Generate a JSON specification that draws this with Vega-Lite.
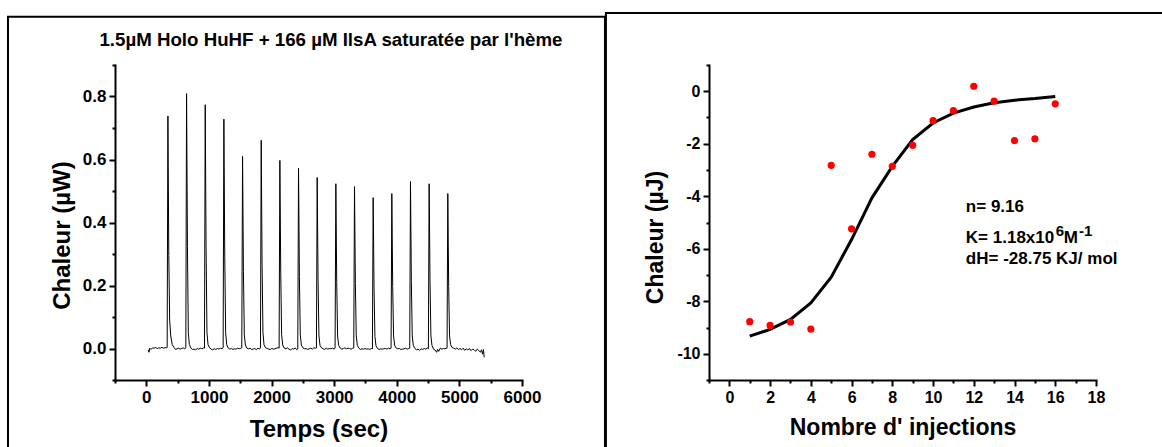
{
  "$schema": "https://vega.github.io/schema/vega-lite/v6.json",
  "bounds": "flush",
  "spacing": 187,
  "padding": {"left": 6, "top": 11, "right": 0, "bottom": 0},
  "background": "white",
  "config": {
    "view": {"stroke": null},
    "font": "Liberation Sans",
    "axis": {
      "domainColor": "black", "domainWidth": 2, "domainCap": "square",
      "tickColor": "black", "tickWidth": 2, "tickSize": 6, "grid": false,
      "labelFont": "Liberation Sans", "labelFontSize": 16, "labelFontWeight": "bold", "labelColor": "black",
      "labelPadding": 3, "labelFlush": false, "labelOverlap": false,
      "titleFont": "Liberation Sans", "titleFontSize": 22, "titleFontWeight": "bold", "titleColor": "black"
    }
  },
  "hconcat": [
    {
      "width": 407,
      "height": 315,
      "layer": [
        {
          "data": {"values": [
            {"t":30,"q":-0.004},{"t":42,"q":-0.012},{"t":55,"q":0.001},{"t":75,"q":-0.003},{"t":100,"q":0.002},{"t":125,"q":0.001},{"t":150,"q":0.003},{"t":175,"q":0.0},{"t":200,"q":0.002},{"t":225,"q":0.001},{"t":250,"q":0.004},{"t":275,"q":0.001},{"t":300,"q":0.003},{"t":320,"q":0.002},
            {"t":333,"q":0.003},{"t":345,"q":0.738},{"t":359,"q":0.295},{"t":373,"q":0.09},{"t":390,"q":0.04},{"t":415,"q":0.012},{"t":440,"q":0.004},{"t":465,"q":-0.003},{"t":490,"q":-0.001},{"t":515,"q":0.001},{"t":540,"q":-0.002},{"t":565,"q":0.0},{"t":590,"q":0.002},{"t":615,"q":-0.001},
            {"t":631,"q":0.002},{"t":643,"q":0.809},{"t":657,"q":0.324},{"t":671,"q":0.05},{"t":688,"q":0.012},{"t":713,"q":0.001},{"t":738,"q":-0.003},{"t":763,"q":-0.002},{"t":788,"q":-0.004},{"t":813,"q":0.0},{"t":838,"q":-0.002},{"t":863,"q":0.001},{"t":888,"q":-0.001},{"t":913,"q":0.002},
            {"t":929,"q":0.001},{"t":941,"q":0.774},{"t":955,"q":0.31},{"t":969,"q":0.05},{"t":986,"q":0.012},{"t":1011,"q":0.002},{"t":1036,"q":-0.002},{"t":1061,"q":-0.004},{"t":1086,"q":-0.001},{"t":1111,"q":-0.003},{"t":1136,"q":0.0},{"t":1161,"q":-0.002},{"t":1186,"q":0.001},{"t":1211,"q":0.0},
            {"t":1227,"q":0.002},{"t":1239,"q":0.728},{"t":1253,"q":0.291},{"t":1267,"q":0.05},{"t":1284,"q":0.012},{"t":1309,"q":0.001},{"t":1334,"q":-0.002},{"t":1359,"q":0.0},{"t":1384,"q":-0.003},{"t":1409,"q":-0.001},{"t":1434,"q":-0.002},{"t":1459,"q":0.001},{"t":1484,"q":-0.001},{"t":1509,"q":0.001},
            {"t":1525,"q":0.002},{"t":1537,"q":0.61},{"t":1551,"q":0.244},{"t":1565,"q":0.045},{"t":1582,"q":0.011},{"t":1607,"q":0.001},{"t":1632,"q":-0.001},{"t":1657,"q":0.001},{"t":1682,"q":-0.003},{"t":1707,"q":-0.002},{"t":1732,"q":0.0},{"t":1757,"q":-0.004},{"t":1782,"q":0.001},{"t":1807,"q":-0.001},
            {"t":1823,"q":0.001},{"t":1835,"q":0.661},{"t":1849,"q":0.264},{"t":1863,"q":0.05},{"t":1880,"q":0.012},{"t":1905,"q":0.002},{"t":1930,"q":0.0},{"t":1955,"q":-0.002},{"t":1980,"q":-0.003},{"t":2005,"q":0.0},{"t":2030,"q":-0.002},{"t":2055,"q":-0.001},{"t":2080,"q":0.001},{"t":2105,"q":0.003},
            {"t":2121,"q":0.001},{"t":2133,"q":0.597},{"t":2147,"q":0.239},{"t":2161,"q":0.045},{"t":2178,"q":0.011},{"t":2203,"q":0.001},{"t":2228,"q":-0.001},{"t":2253,"q":0.002},{"t":2278,"q":-0.002},{"t":2303,"q":-0.005},{"t":2328,"q":0.0},{"t":2353,"q":-0.002},{"t":2378,"q":0.002},{"t":2403,"q":-0.004},
            {"t":2419,"q":-0.001},{"t":2431,"q":0.572},{"t":2445,"q":0.229},{"t":2459,"q":0.045},{"t":2476,"q":0.011},{"t":2501,"q":0.002},{"t":2526,"q":-0.001},{"t":2551,"q":0.0},{"t":2576,"q":-0.003},{"t":2601,"q":-0.001},{"t":2626,"q":0.001},{"t":2651,"q":-0.002},{"t":2676,"q":0.002},{"t":2701,"q":0.001},
            {"t":2717,"q":0.002},{"t":2729,"q":0.543},{"t":2743,"q":0.217},{"t":2757,"q":0.04},{"t":2774,"q":0.01},{"t":2799,"q":0.002},{"t":2824,"q":-0.001},{"t":2849,"q":-0.003},{"t":2874,"q":0.001},{"t":2899,"q":-0.002},{"t":2924,"q":0.0},{"t":2949,"q":-0.001},{"t":2974,"q":0.001},{"t":2999,"q":-0.002},
            {"t":3015,"q":0.001},{"t":3027,"q":0.523},{"t":3041,"q":0.209},{"t":3055,"q":0.04},{"t":3072,"q":0.01},{"t":3097,"q":0.001},{"t":3122,"q":-0.002},{"t":3147,"q":0.0},{"t":3172,"q":0.002},{"t":3197,"q":-0.001},{"t":3222,"q":0.001},{"t":3247,"q":0.0},{"t":3272,"q":-0.002},{"t":3297,"q":0.001},
            {"t":3313,"q":0.002},{"t":3325,"q":0.514},{"t":3339,"q":0.206},{"t":3353,"q":0.04},{"t":3370,"q":0.01},{"t":3395,"q":0.001},{"t":3420,"q":-0.003},{"t":3445,"q":-0.001},{"t":3470,"q":-0.002},{"t":3495,"q":0.0},{"t":3520,"q":-0.002},{"t":3545,"q":-0.001},{"t":3570,"q":-0.003},{"t":3595,"q":0.0},
            {"t":3611,"q":-0.001},{"t":3623,"q":0.479},{"t":3637,"q":0.192},{"t":3651,"q":0.038},{"t":3668,"q":0.009},{"t":3693,"q":0.0},{"t":3718,"q":-0.003},{"t":3743,"q":-0.001},{"t":3768,"q":-0.002},{"t":3793,"q":-0.001},{"t":3818,"q":0.0},{"t":3843,"q":-0.002},{"t":3868,"q":0.001},{"t":3893,"q":-0.001},
            {"t":3909,"q":0.001},{"t":3921,"q":0.492},{"t":3935,"q":0.197},{"t":3949,"q":0.04},{"t":3966,"q":0.01},{"t":3991,"q":0.001},{"t":4016,"q":-0.001},{"t":4041,"q":0.0},{"t":4066,"q":-0.003},{"t":4091,"q":-0.002},{"t":4116,"q":-0.001},{"t":4141,"q":0.001},{"t":4166,"q":-0.002},{"t":4191,"q":0.0},
            {"t":4207,"q":0.001},{"t":4219,"q":0.53},{"t":4233,"q":0.212},{"t":4247,"q":0.04},{"t":4264,"q":0.01},{"t":4289,"q":0.0},{"t":4314,"q":-0.004},{"t":4339,"q":-0.002},{"t":4364,"q":-0.006},{"t":4389,"q":-0.001},{"t":4414,"q":-0.003},{"t":4439,"q":0.0},{"t":4464,"q":-0.002},{"t":4489,"q":0.002},
            {"t":4505,"q":-0.001},{"t":4517,"q":0.523},{"t":4531,"q":0.209},{"t":4545,"q":0.04},{"t":4562,"q":0.01},{"t":4587,"q":-0.002},{"t":4612,"q":-0.005},{"t":4637,"q":-0.012},{"t":4652,"q":-0.003},{"t":4670,"q":-0.009},{"t":4695,"q":0.001},{"t":4720,"q":-0.002},{"t":4745,"q":0.0},{"t":4770,"q":-0.001},{"t":4790,"q":0.001},
            {"t":4803,"q":0.001},{"t":4815,"q":0.492},{"t":4829,"q":0.197},{"t":4843,"q":0.04},{"t":4860,"q":0.012},{"t":4885,"q":0.003},{"t":4910,"q":0.001},{"t":4935,"q":-0.002},{"t":4960,"q":0.002},{"t":4985,"q":-0.003},{"t":5010,"q":0.0},{"t":5035,"q":-0.004},{"t":5060,"q":0.001},{"t":5085,"q":-0.006},{"t":5110,"q":-0.001},{"t":5135,"q":-0.005},{"t":5160,"q":0.0},{"t":5185,"q":-0.007},{"t":5210,"q":-0.002},{"t":5235,"q":-0.004},{"t":5260,"q":-0.009},{"t":5285,"q":-0.002},{"t":5310,"q":-0.006},{"t":5335,"q":-0.012},{"t":5355,"q":-0.004},{"t":5370,"q":-0.018},{"t":5385,"q":-0.003},{"t":5395,"q":-0.028}
          ]},
          "mark": {"type": "line", "color": "black", "strokeWidth": 1},
          "encoding": {
            "x": {"field": "t", "type": "quantitative", "scale": {"domain": [-500, 6000], "nice": false, "zero": false},
                  "axis": {"title": "Temps (sec)", "values": [0, 1000, 2000, 3000, 4000, 5000, 6000], "format": "d", "labelFontSize": 17, "titleFontSize": 24, "titlePadding": 12}},
            "y": {"field": "q", "type": "quantitative", "scale": {"domain": [-0.1, 0.9], "nice": false, "zero": false},
                  "axis": {"title": "Chaleur (µW)", "values": [0, 0.2, 0.4, 0.6, 0.8], "format": ".1f", "labelFontSize": 17, "titleFontSize": 24, "titlePadding": 8, "titleY": 170}}
          }
        },
        {
          "data": {"values": [{"label": "1.5µM Holo HuHF + 166 µM IlsA saturatée par l'hème"}]},
          "mark": {"type": "text", "font": "Liberation Sans", "fontWeight": "bold", "fontSize": 18.7, "color": "black", "align": "center", "baseline": "alphabetic", "clip": false},
          "encoding": {
            "x": {"datum": 2949, "type": "quantitative", "axis": null},
            "y": {"datum": 0.96, "type": "quantitative", "axis": null},
            "text": {"field": "label"}
          }
        },
        {
          "data": {"values": [{}]},
          "mark": {"type": "rect", "filled": false, "stroke": "black", "strokeWidth": 2, "clip": false},
          "encoding": {
            "x": {"datum": -2209, "type": "quantitative", "axis": {"orient": "bottom", "values": [-500, 500, 1500, 2500, 3500, 4500, 5500], "labels": false, "domain": false, "tickSize": 3, "title": null}},
            "x2": {"datum": 7325},
            "y": {"datum": 1.053, "type": "quantitative", "axis": {"orient": "left", "values": [-0.1, 0.1, 0.3, 0.5, 0.7, 0.9], "labels": false, "domain": false, "tickSize": 3, "title": null}},
            "y2": {"datum": -0.342}
          }
        }
      ],
      "resolve": {"axis": {"x": "independent", "y": "independent"}}
    },
    {
      "width": 387,
      "height": 315,
      "layer": [
        {
          "data": {"values": [
            {"n":1,"fit":-9.33},{"n":2,"fit":-9.07},{"n":3,"fit":-8.69},{"n":4,"fit":-8.06},{"n":5,"fit":-7.08},{"n":6,"fit":-5.65},{"n":7,"fit":-4.06},{"n":8,"fit":-2.86},
            {"n":9,"fit":-1.84},{"n":10,"fit":-1.21},{"n":11,"fit":-0.83},{"n":12,"fit":-0.6},{"n":13,"fit":-0.44},{"n":14,"fit":-0.34},{"n":15,"fit":-0.28},{"n":16,"fit":-0.2}
          ]},
          "mark": {"type": "line", "color": "black", "strokeWidth": 3},
          "encoding": {
            "x": {"field": "n", "type": "quantitative", "scale": {"domain": [-1, 18], "nice": false, "zero": false},
                  "axis": {"title": "Nombre d' injections", "values": [0, 2, 4, 6, 8, 10, 12, 14, 16, 18], "format": "d", "titleFontSize": 23, "titlePadding": 11}},
            "y": {"field": "fit", "type": "quantitative", "scale": {"domain": [-11, 1], "nice": false, "zero": false},
                  "axis": {"title": "Chaleur (µJ)", "values": [-10, -8, -6, -4, -2, 0], "labelExpr": "datum.value + ''", "titleFontSize": 23, "titlePadding": 9, "titleY": 172}}
          }
        },
        {
          "data": {"values": [
            {"n":1,"heat":-8.78},{"n":2,"heat":-8.92},{"n":3,"heat":-8.79},{"n":4,"heat":-9.06},{"n":5,"heat":-2.82},{"n":6,"heat":-5.24},{"n":7,"heat":-2.4},{"n":8,"heat":-2.86},
            {"n":9,"heat":-2.06},{"n":10,"heat":-1.12},{"n":11,"heat":-0.74},{"n":12,"heat":0.19},{"n":13,"heat":-0.38},{"n":14,"heat":-1.88},{"n":15,"heat":-1.81},{"n":16,"heat":-0.48}
          ]},
          "mark": {"type": "circle", "color": "#ff0000", "opacity": 1, "size": 52},
          "encoding": {
            "x": {"field": "n", "type": "quantitative", "axis": null},
            "y": {"field": "heat", "type": "quantitative", "axis": null}
          }
        },
        {
          "data": {"values": [
            {"x": 11.61, "y": -4.41, "label": "n= 9.16"},
            {"x": 11.61, "y": -5.58, "label": "K= 1.18x10"},
            {"x": 16.42, "y": -5.58, "label": "M"},
            {"x": 11.61, "y": -6.4, "label": "dH= -28.75 KJ/ mol"}
          ]},
          "mark": {"type": "text", "font": "Liberation Sans", "fontWeight": "bold", "fontSize": 17, "color": "black", "align": "left", "baseline": "middle"},
          "encoding": {
            "x": {"field": "x", "type": "quantitative", "axis": null},
            "y": {"field": "y", "type": "quantitative", "axis": null},
            "text": {"field": "label"}
          }
        },
        {
          "data": {"values": [
            {"x": 16.03, "y": -5.58, "label": "6"},
            {"x": 17.16, "y": -5.58, "label": "-1"}
          ]},
          "mark": {"type": "text", "font": "Liberation Sans", "fontWeight": "bold", "fontSize": 15, "color": "black", "align": "left", "baseline": "middle", "dy": -7},
          "encoding": {
            "x": {"field": "x", "type": "quantitative", "axis": null},
            "y": {"field": "y", "type": "quantitative", "axis": null},
            "text": {"field": "label"}
          }
        },
        {
          "data": {"values": [{}]},
          "mark": {"type": "rect", "filled": false, "stroke": "black", "strokeWidth": 2, "clip": false},
          "encoding": {
            "x": {"datum": -6.06, "type": "quantitative", "axis": {"orient": "bottom", "values": [-1, 1, 3, 5, 7, 9, 11, 13, 15, 17], "labels": false, "domain": false, "tickSize": 3, "title": null}},
            "x2": {"datum": 21.39},
            "y": {"datum": 2.981, "type": "quantitative", "axis": {"orient": "left", "values": [-11, -9, -7, -5, -3, -1, 1], "labels": false, "domain": false, "tickSize": 3, "title": null}},
            "y2": {"datum": -13.895}
          }
        }
      ],
      "resolve": {"axis": {"x": "independent", "y": "independent"}}
    }
  ]
}
